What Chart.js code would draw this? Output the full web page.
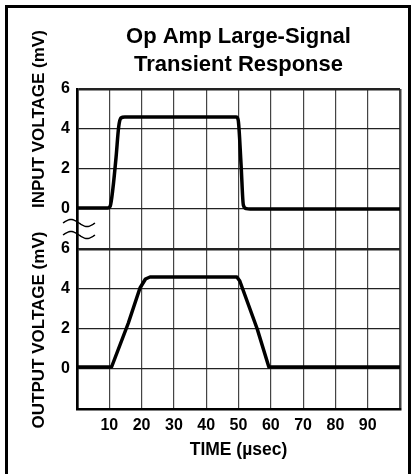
<!DOCTYPE html>
<html>
<head>
<meta charset="utf-8">
<script src="https://cdn.jsdelivr.net/npm/chart.js@4.4.1/dist/chart.umd.min.js"></script>
<style>
  html, body { margin: 0; padding: 0; background: #fff; }
</style>
</head>
<body>
<canvas id="chart" width="416" height="474"></canvas>
<script>
const timeTicks = [10, 20, 30, 40, 50, 60, 70, 80, 90];
const voltTicks = [0, 2, 4, 6];

// input step (mV vs usec)
const inputTime = [0, 9.5, 10.3, 11.1, 12.1, 12.9, 13.6, 14.8, 49.3, 49.9, 50.8, 51.5, 52.4, 53.6, 100];
const inputMv   = [0.05, 0.05, 0.15, 1.0, 2.6, 4.1, 4.55, 4.6, 4.6, 4.45, 2.2, 0.2, 0.02, 0, 0];

// output response
const outputTime = [0, 10.7, 15.9, 19.5, 21.2, 22.6, 49.5, 50.4, 55.8, 59.4, 100];
const outputMv   = [0.1, 0.1, 2.3, 4.05, 4.5, 4.6, 4.6, 4.4, 2.0, 0.1, 0.1];

const FONT = "'Liberation Sans', Arial, Helvetica, sans-serif";
Chart.defaults.font.family = FONT;
Chart.defaults.color = '#000';

function toPoints(xs, ys) {
    return xs.map((x, i) => ({x: x, y: ys[i]}));
}

const tickFont = {size: 16, weight: 'bold'};

function voltScale(isInput) {
    return {
        type: 'linear',
        position: 'left',
        stack: 'volts',
        stackWeight: 1,
        min: -2,
        max: 6,
        afterFit: (s) => { s.width = 77; },
        border: {color: '#000', width: 2.5},
        grid: {
            color: '#222',
            drawTicks: false,
            lineWidth: (c) => c.tick.value === 6 ? 2.5 : 1.2
        },
        ticks: {
            stepSize: 2,
            padding: 7,
            font: tickFont,
            callback: (v) => {
                if (isInput && v === -2) return null;
                return voltTicks.includes(v) ? v : '';
            }
        }
    };
}

const decorations = {
    id: 'decorations',
    afterDraw(chart) {
        const ctx = chart.ctx;
        const yIn = chart.scales.yIn;
        const left = chart.chartArea.left;
        ctx.save();
        // outer frame
        ctx.strokeStyle = '#000';
        ctx.lineWidth = 3;
        ctx.beginPath();
        ctx.moveTo(6.5, 474);
        ctx.lineTo(6.5, 6.5);
        ctx.lineTo(409.5, 6.5);
        ctx.lineTo(409.5, 474);
        ctx.stroke();

        // axis break marks
        ctx.lineWidth = 1.4;
        [-0.7, -1.3].forEach((v) => {
            const y0 = yIn.getPixelForValue(v);
            ctx.beginPath();
            for (let i = 0; i <= 32; i++) {
                const x = left - 14 + i;
                const y = y0 - 3.5 * Math.sin(i / 32 * 2 * Math.PI);
                if (i === 0) ctx.moveTo(x, y); else ctx.lineTo(x, y);
            }
            ctx.stroke();
        });

        // y axis titles
        ctx.fillStyle = '#000';
        ctx.font = 'bold 17px ' + FONT;
        ctx.textBaseline = 'middle';
        ctx.save();
        ctx.translate(39, 208);
        ctx.rotate(-Math.PI / 2);
        ctx.textAlign = 'left';
        ctx.fillText('INPUT VOLTAGE (mV)', 0, 0);
        ctx.restore();
        ctx.save();
        ctx.translate(39, 330);
        ctx.rotate(-Math.PI / 2);
        ctx.textAlign = 'center';
        ctx.fillText('OUTPUT VOLTAGE (mV)', 0, 0);
        ctx.restore();
        ctx.restore();
    }
};

new Chart(document.getElementById('chart').getContext('2d'), {
    type: 'line',
    data: {
        datasets: [{
            label: 'Input',
            data: toPoints(inputTime, inputMv),
            yAxisID: 'yIn',
            borderColor: '#000',
            borderWidth: 3.5,
            pointRadius: 0,
            cubicInterpolationMode: 'monotone'
        }, {
            label: 'Output',
            data: toPoints(outputTime, outputMv),
            yAxisID: 'yOut',
            borderColor: '#000',
            borderWidth: 3.5,
            borderJoinStyle: 'round',
            pointRadius: 0,
            tension: 0
        }]
    },
    options: {
        responsive: false,
        animation: false,
        layout: {padding: {left: 0, right: 16, top: 0, bottom: 0}},
        plugins: {
            legend: {display: false},
            tooltip: {enabled: false},
            title: {
                display: true,
                fullSize: false,
                text: ['Op Amp Large-Signal', 'Transient Response'],
                color: '#000',
                font: {size: 22, weight: 'bold', lineHeight: 28 / 22},
                padding: {top: 23, bottom: 10}
            }
        },
        scales: {
            x: {
                type: 'linear',
                position: 'bottom',
                min: 0,
                max: 100,
                afterFit: (s) => { s.height = 65; },
                border: {color: '#000', width: 2.5},
                grid: {
                    color: '#444',
                    drawTicks: false,
                    lineWidth: (c) => (c.tick.value === 0 || c.tick.value === 100) ? 2.5 : 1.2
                },
                ticks: {
                    stepSize: 10,
                    padding: 7,
                    font: tickFont,
                    maxRotation: 0,
                    callback: (v) => timeTicks.includes(v) ? v : ''
                },
                title: {
                    display: true,
                    text: 'TIME (\u00b5sec)',
                    font: {size: 17.5, weight: 'bold'},
                    padding: {top: 4, bottom: 13}
                }
            },
            yOut: voltScale(false),
            yIn: voltScale(true)
        }
    },
    plugins: [decorations]
});
</script>
</body>
</html>
